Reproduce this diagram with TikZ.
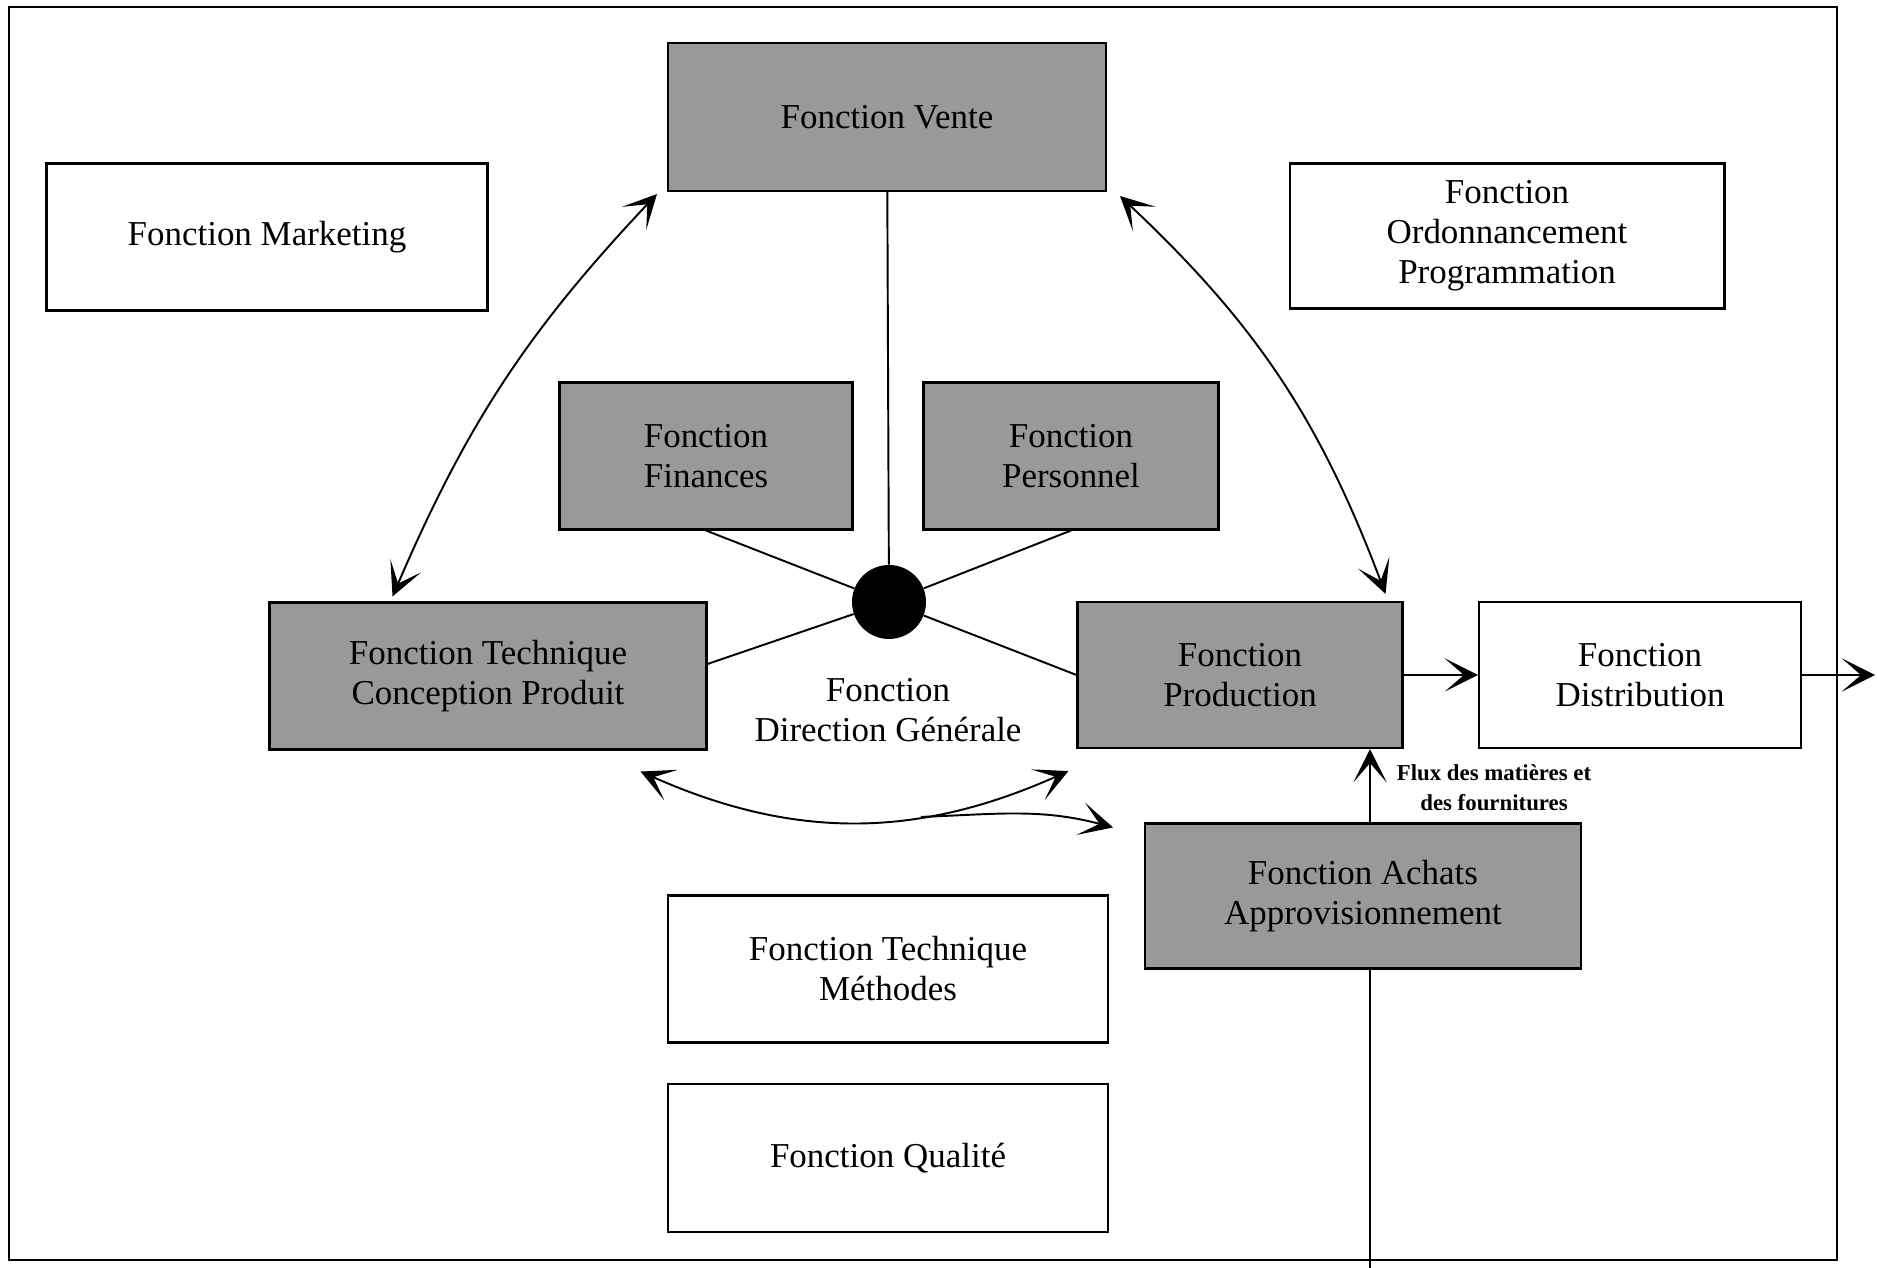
\documentclass[tikz,border=0pt]{standalone}
\usepackage{fontspec}
\setmainfont{Liberation Serif}
\usetikzlibrary{arrows.meta}

\begin{document}
\begin{tikzpicture}[x=0.02cm,y=0.02cm,
  boite/.style={draw,line width=1.2pt,inner sep=0pt,align=center,font=\fontsize{19.9}{22.8}\selectfont},
  grise/.style={boite,fill=black!40},
  lien/.style={line width=1.1pt},
  pointe/.tip={Stealth[length=19pt,width=19pt,inset=11pt]},
  fleche/.style={lien,-pointe},
  dfleche/.style={lien,pointe-pointe}]

\useasboundingbox (0,0) rectangle (1877,1268) ;

% cadre

\draw[line width=1.1pt] (9,8) rectangle (1837,1261) ;

% fonctions grisées

\node[grise,minimum width=8.76cm,minimum height=2.96cm] (f_vente) at (887,1151) {Fonction Vente} ;
\node[grise,minimum width=5.86cm,minimum height=2.94cm] (f_finances) at (706,812) {Fonction\\Finances} ;
\node[grise,minimum width=5.9cm,minimum height=2.94cm] (f_personnel) at (1071,812) {Fonction\\Personnel} ;
\node[grise,minimum width=8.74cm,minimum height=2.94cm] (f_conception) at (488,592) {Fonction Technique\\Conception Produit} ;
\node[grise,minimum width=6.5cm,minimum height=2.92cm] (f_production) at (1240,593) {Fonction\\Production} ;
\node[grise,minimum width=8.72cm,minimum height=2.9cm] (f_achats) at (1363,372) {Fonction Achats\\Approvisionnement} ;

% fonctions blanches

\node[boite,minimum width=8.82cm,minimum height=2.94cm] (f_marketing) at (267,1031) {Fonction Marketing} ;
\node[boite,minimum width=8.7cm,minimum height=2.9cm] (f_ordo) at (1507,1032) {Fonction\\Ordonnancement\\Programmation} ;
\node[boite,minimum width=6.44cm,minimum height=2.92cm] (f_distribution) at (1640,593) {Fonction\\Distribution} ;
\node[boite,minimum width=8.8cm,minimum height=2.94cm] (f_methodes) at (888,299) {Fonction Technique\\Méthodes} ;
\node[boite,minimum width=8.8cm,minimum height=2.96cm] (f_qualite) at (888,110) {Fonction Qualité} ;

% direction générale

\node[circle,fill=black,inner sep=0pt,minimum size=1.48cm] (f_direction) at (889,666) {} ;
\node[align=center,font=\fontsize{19.9}{22.8}\selectfont] (t_direction) at (888,558) {Fonction\\Direction Générale} ;

\draw[lien] (f_vente) -- (f_direction) ;
\draw[lien] (f_finances.south) -- (f_direction) ;
\draw[lien] (f_personnel.south) -- (f_direction) ;
\draw[lien] ([yshift=0.24cm]f_conception.east) -- (f_direction) ;
\draw[lien] (f_production.west) -- (f_direction) ;

% flèches courbes

\draw[dfleche] ([xshift=-0.2cm,yshift=-0.04cm]f_vente.south west) to[bend right=10] ([xshift=-1.91cm,yshift=0.1cm]f_conception.north) ;
\draw[dfleche] ([xshift=0.26cm,yshift=-0.08cm]f_vente.south east) to[bend left=13] ([xshift=-0.36cm,yshift=0.14cm]f_production.north east) ;
\draw[dfleche] ([xshift=-1.34cm,yshift=-0.42cm]f_conception.south east) to[bend right=24] coordinate[pos=0.66] (pt_embr) ([xshift=-0.16cm,yshift=-0.44cm]f_production.south west) ;
\draw[fleche] (pt_embr) to[out=2,in=165] ([xshift=-0.62cm,yshift=-0.1cm]f_achats.north west) ;

% flux physique

\coordinate (pt_bas) at (1370,0) ;
\coordinate (pt_sortie) at (1875,593) ;

\draw[lien] (pt_bas) -- (pt_bas |- f_achats.south) ;
\draw[fleche] (pt_bas |- f_achats.north) -- (pt_bas |- f_production.south) ;
\draw[fleche] (f_production) -- (f_distribution) ;
\draw[fleche] (f_distribution) -- (pt_sortie) ;

\node[align=center,font=\bfseries\fontsize{13}{17}\selectfont] (t_flux) at (1494,480) {Flux des matières et\\des fournitures} ;

\end{tikzpicture}
\end{document}
